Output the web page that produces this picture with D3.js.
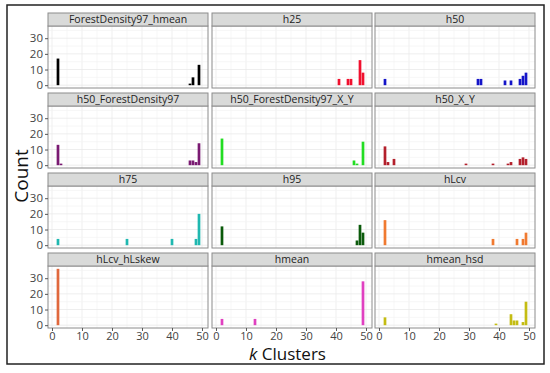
<!DOCTYPE html>
<html>
<head>
<meta charset="utf-8">
<script src="https://cdn.jsdelivr.net/npm/d3@7"></script>
<style>
  body { margin: 0; background: #fff; }
  svg { display: block; font-family: "Open Sans", "Noto Sans", sans-serif; }
</style>
</head>
<body>
<div id="chart"></div>
<script>
// facet names + colours, in reading order
const facetNames = ["ForestDensity97_hmean", "h25", "h50",
  "h50_ForestDensity97", "h50_ForestDensity97_X_Y", "h50_X_Y",
  "h75", "h95", "hLcv",
  "hLcv_hLskew", "hmean", "hmean_hsd"];
const facetColors = ["#000000", "#f0102e", "#1414c8",
  "#7a1a72", "#22dd22", "#b3202c",
  "#1fb8b0", "#0b5a0b", "#f07a30",
  "#e0683c", "#e040c0", "#c4bc12"];

// [k, count] pairs
const fd97_hmean = [[2, 17], [46, 1], [47, 5], [49, 13]];
const h25 = [[41, 4], [44, 4], [45, 4], [48, 16], [49, 8]];
const h50 = [[2, 4], [33, 4], [34, 4], [42, 3], [44, 3], [47, 4], [48, 6], [49, 8]];
const h50_fd97 = [[2, 13], [3, 1], [46, 3], [47, 3], [48, 2], [49, 14]];
const h50_fd97_xy = [[2, 17], [46, 3], [47, 1], [49, 15]];
const h50_xy = [[2, 12], [3, 2], [5, 4], [29, 1], [38, 1], [43, 1], [44, 2], [47, 4], [48, 5], [49, 4]];
const h75 = [[2, 4], [25, 4], [40, 4], [48, 4], [49, 20]];
const h95 = [[2, 12], [47, 3], [48, 13], [49, 8]];
const hLcv = [[2, 16], [38, 4], [46, 4], [48, 4], [49, 8]];
const hLcv_hLskew = [[2, 36]];
const hmean = [[2, 4], [13, 4], [49, 28]];
const hmean_hsd = [[2, 5], [39, 1], [44, 7], [45, 3], [46, 3], [48, 2], [49, 15]];

const facetData = [fd97_hmean, h25, h50, h50_fd97, h50_fd97_xy, h50_xy,
  h75, h95, hLcv, hLcv_hLskew, hmean, hmean_hsd];

const xTicks = [0, 10, 20, 30, 40, 50];
const yTicks = [0, 10, 20, 30];

const W = 550, H = 373;
const colX = [48, 212, 375], panelW = 160;
const rowY = [13, 93, 173, 253], stripH = 13, plotH = 62;

const svg = d3.select("#chart").append("svg")
  .attr("width", W).attr("height", H);

// outer frame
svg.append("rect")
  .attr("x", 7).attr("y", 5).attr("width", 537).attr("height", 359)
  .attr("fill", "none").attr("stroke", "#222").attr("stroke-width", 1.5);

const x = d3.scaleLinear().domain([-1.33, 52]).range([0, panelW]);
const y = d3.scaleLinear().domain([-1.8, 37.8]).range([plotH, 0]);

facetNames.forEach((name, i) => {
  const col = i % 3, row = Math.floor(i / 3);
  const g = svg.append("g")
    .attr("transform", `translate(${colX[col]},${rowY[row] + stripH})`);

  // strip
  svg.append("rect")
    .attr("x", colX[col]).attr("y", rowY[row])
    .attr("width", panelW).attr("height", stripH)
    .attr("fill", "#d9dad9").attr("stroke", "#8c8c8c").attr("stroke-width", 1);
  svg.append("text")
    .attr("x", colX[col] + panelW / 2).attr("y", rowY[row] + stripH / 2)
    .attr("dy", "0.36em").attr("text-anchor", "middle")
    .attr("font-size", 10.5).attr("fill", "#222")
    .text(name);

  // grid
  g.append("g").selectAll("line")
    .data(d3.range(0, 55, 5))
    .join("line")
    .attr("x1", d => x(d)).attr("x2", d => x(d))
    .attr("y1", 0).attr("y2", plotH)
    .attr("stroke", d => d % 10 === 0 ? "#e6e6e6" : "#f2f2f2").attr("stroke-width", 0.7);
  g.append("g").selectAll("line")
    .data(d3.range(0, 40, 5))
    .join("line")
    .attr("x1", 0).attr("x2", panelW)
    .attr("y1", d => y(d)).attr("y2", d => y(d))
    .attr("stroke", d => d % 10 === 0 ? "#e6e6e6" : "#f2f2f2").attr("stroke-width", 0.7);

  // bars
  g.selectAll(".bar")
    .data(facetData[i])
    .join("rect")
    .attr("class", "bar")
    .attr("x", d => x(d[0] - 0.45))
    .attr("width", x(0.9) - x(0))
    .attr("y", d => y(d[1]))
    .attr("height", d => y(0) - y(d[1]))
    .attr("fill", facetColors[i]);

  // panel border
  g.append("rect")
    .attr("width", panelW).attr("height", plotH)
    .attr("fill", "none").attr("stroke", "#8c8c8c").attr("stroke-width", 1);

  if (col === 0) {
    const ya = g.append("g")
      .call(d3.axisLeft(y).tickValues(yTicks).tickSize(3).tickPadding(2));
    ya.select(".domain").remove();
    ya.selectAll("line").attr("stroke", "#555");
    ya.selectAll("text").attr("font-size", 11.5).attr("fill", "#444")
      .style("font-family", "'Open Sans', 'Noto Sans', sans-serif");
  }
  if (row === 3) {
    const xa = g.append("g").attr("transform", `translate(0,${plotH})`)
      .call(d3.axisBottom(x).tickValues(xTicks).tickSize(3).tickPadding(1));
    xa.select(".domain").remove();
    xa.selectAll("line").attr("stroke", "#555");
    xa.selectAll("text").attr("font-size", 11).attr("fill", "#444")
      .style("font-family", "'Open Sans', 'Noto Sans', sans-serif");
  }
});

// axis titles
svg.append("text")
  .attr("transform", `translate(28,176) rotate(-90)`)
  .attr("text-anchor", "middle")
  .attr("font-size", 19).attr("fill", "#111")
  .text("Count");

const xt = svg.append("text")
  .attr("x", (colX[0] + colX[2] + panelW) / 2 - 4).attr("y", 360)
  .attr("text-anchor", "middle")
  .attr("font-size", 17).attr("fill", "#111");
xt.append("tspan").attr("font-style", "italic").text("k");
xt.append("tspan").text(" Clusters");
</script>
</body>
</html>
